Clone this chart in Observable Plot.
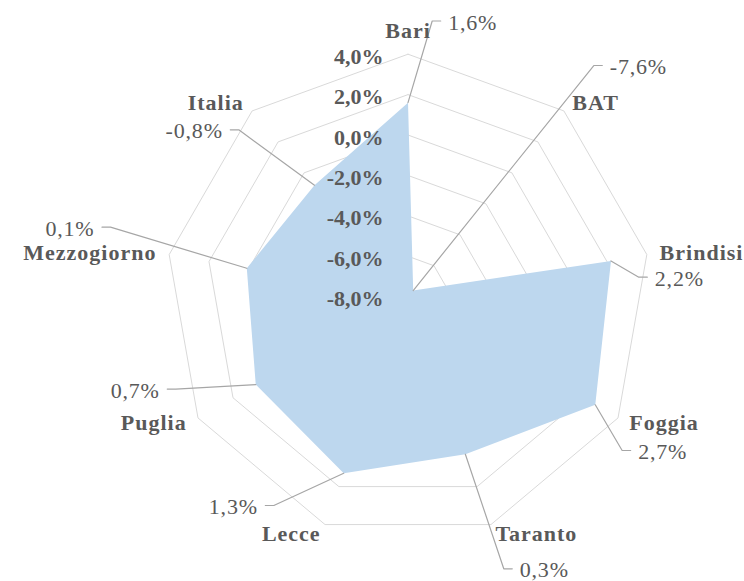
<!DOCTYPE html>
<html><head><meta charset="utf-8">
<script src="https://cdn.jsdelivr.net/npm/d3@7"></script>
<script src="https://cdn.jsdelivr.net/npm/@observablehq/plot@0.6"></script>
<style>
html,body{margin:0;padding:0;background:#fff;} svg{display:block}
text[aria-label="cat"]{letter-spacing:1px;}
text[aria-label="val"]{letter-spacing:0.8px;}
</style>
</head><body><div id="chart"></div>
<script>
// ---- data ----
const categories = ["Bari","BAT","Brindisi","Foggia","Taranto","Lecce","Puglia","Mezzogiorno","Italia"];
const values = [1.6,-7.6,2.2,2.7,0.3,1.3,0.7,0.1,-0.8];
const valueLabels = ["1,6%","-7,6%","2,2%","2,7%","0,3%","1,3%","0,7%","0,1%","-0,8%"];
const tickValues = [-8,-6,-4,-2,0,2,4];
const tickLabels = ["-8,0%","-6,0%","-4,0%","-2,0%","0,0%","2,0%","4,0%"];

// ---- layout (pixels) ----
const W = 744, H = 581, CX = 407.5, CY = 296.2, R = 242.5;
// leader-line elbow offsets from each data point (px, screen direction)
const leaderElbow = [[24.2,-81.7],[180.6,-225],[27.8,16.3],[26.9,45.7],[38.4,114.5],[-69.9,32.2],[-80,4.5],[-136.3,-41.1],[-75.7,-55.4]];
const HSEG = 8.5, LGAP = 7.5, CATGAP = 13;
const FONT = "'Liberation Serif', 'Times New Roman', serif";
const GREY = "#595959";

const n = categories.length;
const angle = i => 2 * Math.PI * i / n;
const rScale = d3.scaleLinear().domain([-8, 4]).range([0, 1]);
const polar = (i, r) => ({x: r * Math.sin(angle(i)), y: r * Math.cos(angle(i))});

// grid rings
const rings = tickValues.filter(v => v > -8).flatMap(v =>
  d3.range(n + 1).map(k => ({level: v, ...polar(k % n, rScale(v))})));

// area
const area = values.map((v, i) => polar(i, rScale(v)));
area.push(area[0]);

// leaders + value labels
const leaders = [], vlabels = [];
values.forEach((v, i) => {
  const P = polar(i, rScale(v));
  const [ex, ey] = leaderElbow[i];
  const E = {x: P.x + ex / R, y: P.y - ey / R};
  const side = ex > 0 ? 1 : -1;
  const Hh = {x: E.x + side * HSEG / R, y: E.y};
  leaders.push({id: i, ...P}, {id: i, ...E}, {id: i, ...Hh});
  vlabels.push({x: Hh.x + side * LGAP / R, y: Hh.y, text: valueLabels[i], side});
});

// category labels
const clabels = categories.map((c, i) => {
  const a = angle(i), s = Math.sin(a), co = Math.cos(a);
  const p = polar(i, 1 + CATGAP / R);
  const dyPx = Math.abs(s) < 0.1 ? -10.7 * co : 3 * co;
  return {x: p.x, y: p.y - dyPx / R, text: c,
          anchor: s > 0.1 ? "start" : s < -0.1 ? "end" : "middle"};
});

// tick labels along vertical axis
const ticks = tickValues.map((v, k) => ({x: -24.5 / R, y: rScale(v), text: tickLabels[k]}));

const textOpts = {fontFamily: FONT, fontSize: 22, fill: GREY};

const chart = Plot.plot({
  width: W, height: H, margin: 0,
  x: {axis: null, domain: [-CX / R, (W - CX) / R]},
  y: {axis: null, domain: [-(H - CY) / R, CY / R]},
  style: {fontFamily: FONT, background: "#fff"},
  marks: [
    Plot.line(rings, {x: "x", y: "y", z: "level", stroke: "#d9d9d9", strokeWidth: 1}),
    Plot.line(area, {x: "x", y: "y", fill: "#bdd7ee", stroke: "none"}),
    Plot.line(leaders, {x: "x", y: "y", z: "id", stroke: "#a6a6a6", strokeWidth: 1.2}),
    Plot.text(ticks, {x: "x", y: "y", text: "text", textAnchor: "end", dy: 2.5, fontWeight: "bold", ...textOpts}),
    Plot.text(vlabels.filter(d => d.side > 0), {x: "x", y: "y", text: "text", textAnchor: "start", dy: 1.5, ariaLabel: () => "val", ...textOpts}),
    Plot.text(vlabels.filter(d => d.side < 0), {x: "x", y: "y", text: "text", textAnchor: "end", dy: 1.5, ariaLabel: () => "val", ...textOpts}),
    ...["start", "end", "middle"].map(an =>
      Plot.text(clabels.filter(d => d.anchor === an), {x: "x", y: "y", text: "text", textAnchor: an, fontWeight: "bold", ariaLabel: () => "cat", ...textOpts}))
  ]
});
document.getElementById("chart").append(chart);
</script>
</body></html>
